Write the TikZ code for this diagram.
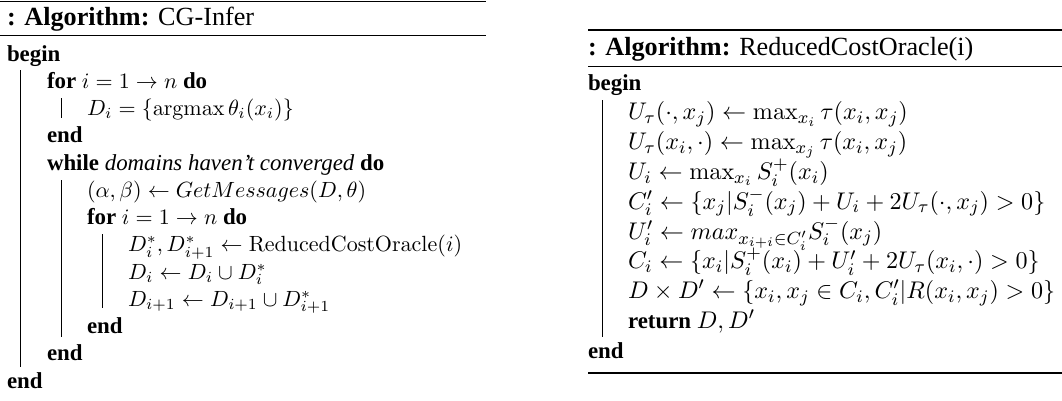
\documentclass[tikz,border=0pt]{standalone}
\usepackage[no-math]{fontspec}
\setmainfont{Liberation Serif}[BoldFont={Liberation Serif Bold},ItalicFont={Liberation Serif Italic},BoldItalicFont={Liberation Serif Bold Italic}]
\begin{document}
\begin{tikzpicture}[x=0.4545pt,y=-0.4545pt,
  ln/.style={anchor=base west,inner sep=0pt,outer sep=0pt,font=\fontsize{10.4}{12}\selectfont},
  lnr/.style={anchor=base west,inner sep=0pt,outer sep=0pt,font=\fontsize{11.2}{13}\selectfont},
  ttl/.style={anchor=base west,inner sep=0pt,outer sep=0pt,font=\fontsize{11.9}{14}\selectfont},
  rulel/.style={line width=0.8pt},
  bar/.style={line width=0.45pt}]
\useasboundingbox (0,0) rectangle (1062,400);
% ---------------- left algorithm ----------------
\draw[rulel] (-10,1.5) -- (486,1.5);
\node[ttl] (lt) at (7,25) {\textbf{: Algorithm:} CG-Infer};
\draw[rulel] (-10,35.5) -- (486,35.5);
\node[ln] (l1)  at (7,61)     {\textbf{begin}};
\node[ln] (l2)  at (47,88.25) {\textbf{for} $i=1\rightarrow n$ \textbf{do}};
\node[ln] (l3)  at (87,115.5) {$D_i=\{\mathrm{argmax}\,\theta_i(x_i)\}$};
\node[ln] (l4)  at (47,142.75){\textbf{end}};
\node[ln] (l5)  at (47,170)   {\textbf{while} \textit{domains haven't converged} \textbf{do}};
\node[ln] (l6)  at (87,197.25){$(\alpha,\beta)\leftarrow GetMessages(D,\theta)$};
\node[ln] (l7)  at (87,224.5) {\textbf{for} $i=1\rightarrow n$ \textbf{do}};
\node[ln] (l8)  at (128,251.75){$D^*_i,D^*_{i+1}\leftarrow \mathrm{ReducedCostOracle}(i)$};
\node[ln] (l9)  at (128,279)  {$D_i\leftarrow D_i\cup D^*_i$};
\node[ln] (l10) at (128,306.25){$D_{i+1}\leftarrow D_{i+1}\cup D^*_{i+1}$};
\node[ln] (l11) at (87,333.5) {\textbf{end}};
\node[ln] (l12) at (47,360.75){\textbf{end}};
\node[ln] (l13) at (7,388)    {\textbf{end}};
% block bars
\draw[bar] (20.7,70) -- (20.7,367);
\draw[bar] (61,98) -- (61,118);
\draw[bar] (61,180) -- (61,337);
\draw[bar] (102,234) -- (102,308);
% ---------------- right algorithm ----------------
\draw[rulel] (588,30) -- (1062,30);
\node[ttl] (rt) at (588,55) {\textbf{: Algorithm:} ReducedCostOracle(i)};
\draw[rulel] (588,66.5) -- (1062,66.5);
\node[ln] (r1)  at (588,90)    {\textbf{begin}};
\node[lnr] (r2)  at (628,119.8) {$U_\tau(\cdot,x_j)\leftarrow\max_{x_i}\tau(x_i,x_j)$};
\node[lnr] (r3)  at (628,149.6) {$U_\tau(x_i,\cdot)\leftarrow\max_{x_j}\tau(x_i,x_j)$};
\node[lnr] (r4)  at (628,179.4) {$U_i\leftarrow\max_{x_i}S^+_i(x_i)$};
\node[lnr] (r5)  at (628,209.2) {$C'_i\leftarrow\{x_j|S^-_i(x_j)+U_i+2U_\tau(\cdot,x_j)>0\}$};
\node[lnr] (r6)  at (628,239)   {$U'_i\leftarrow max_{x_{i+i}\in C'_i}S^-_i(x_j)$};
\node[lnr] (r7)  at (628,268.8) {$C_i\leftarrow\{x_i|S^+_i(x_i)+U'_i+2U_\tau(x_i,\cdot)>0\}$};
\node[lnr] (r8)  at (628,298.6) {$D\times D'\leftarrow\{x_i,x_j\in C_i,C'_i|R(x_i,x_j)>0\}$};
\node[ln] (r9)  at (628,328.4) {\textbf{return} {\fontsize{11.2}{13}\selectfont$D,D'$}};
\node[ln] (r10) at (588,358.2) {\textbf{end}};
\draw[bar] (602,100) -- (602,337);
\draw[rulel] (588,373) -- (1062,373);
\end{tikzpicture}
\end{document}
